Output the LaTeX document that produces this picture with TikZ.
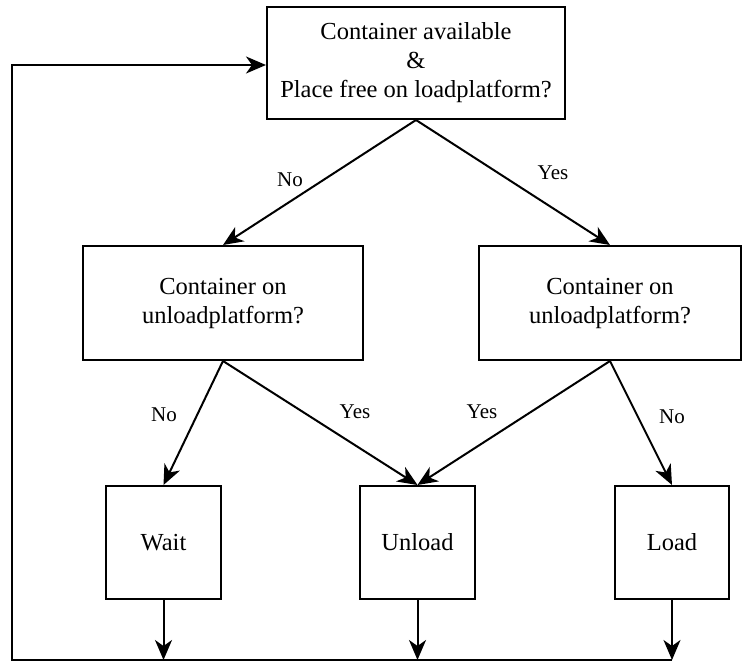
\documentclass[tikz,border=0pt]{standalone}
\usepackage{fontspec}
\setmainfont{Liberation Serif}
\newfontfamily\boxfont{Liberation Serif}
\usetikzlibrary{arrows.meta}
\begin{document}
\begin{tikzpicture}[x=1pt,y=-1pt]
\tikzstyle{box} = [rectangle, draw=black, line width=2pt, align=center, inner sep=0pt, font=\boxfont\fontsize{24.5}{29}\selectfont]
\tikzstyle{lbl} = [font=\boxfont\fontsize{21}{24}\selectfont]
\tikzstyle{arrow} = [line width=2pt,-{Stealth[length=20pt,width=17pt,inset=6pt]}]

\useasboundingbox (0,0) rectangle (742,661);

%node
\node (CA) [box, minimum width=298pt, minimum height=112pt] at (416,63) {Container available\\\&\\Place free on loadplatform?};

\node (UL) [box, minimum width=280pt, minimum height=114pt] at (223,303) {Container on\\unloadplatform?};
\node (UR) [box, minimum width=262pt, minimum height=114pt] at (610,303) {Container on\\unloadplatform?};

\node (W) [box, minimum width=115pt, minimum height=113pt] at (163.5,542.5) {Wait};
\node (U) [box, minimum width=115pt, minimum height=113pt] at (417.5,542.5) {Unload};
\node (L) [box, minimum width=114pt, minimum height=113pt] at (672,542.5) {Load};

%labels
\node (NoA) [lbl] at (290,180) {No};
\node (YesA) [lbl] at (553,173) {Yes};
\node (NoB) [lbl] at (164,415) {No};
\node (YesB) [lbl] at (355,412) {Yes};
\node (YesC) [lbl] at (482,412) {Yes};
\node (NoC) [lbl] at (672,417) {No};

%free ends on the bottom line
\coordinate (WE) at (163.5,660);
\coordinate (UE) at (417.5,660);
\coordinate (LE) at (672,660);
\coordinate (BL) at (12,660);
\coordinate (TL) at (12,65);

%lines
\draw [arrow] (CA.south) -- (UL.north);
\draw [arrow] (CA.south) -- (UR.north);

\draw [arrow] (UL.south) -- (W.north);
\draw [arrow] (UL.south) -- (U.north);
\draw [arrow] (UR.south) -- (U.north);
\draw [arrow] (UR.south) -- (L.north);

\draw [arrow] (W.south) -- (WE);
\draw [arrow] (U.south) -- (UE);
\draw [arrow] (L.south) -- (LE);

%back to the top
\draw [arrow] (LE) -- (BL) -- (TL) -- (CA.west |- TL);
\end{tikzpicture}
\end{document}
